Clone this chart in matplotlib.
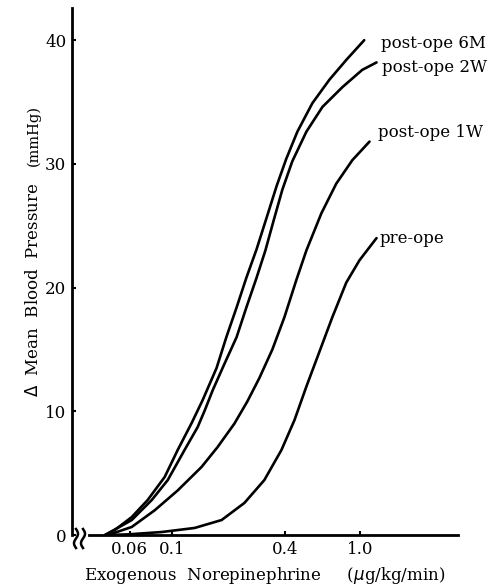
import matplotlib.pyplot as plt
import numpy as np

plt.rcParams['font.family'] = ['DejaVu Serif']

# dose (ug/kg/min) vs delta mean blood pressure (mmHg)
x_6m = [0.0443, 0.0499, 0.0614, 0.0746, 0.0918, 0.1076, 0.1276, 0.1459, 0.173, 0.195, 0.221,
        0.249, 0.282, 0.318, 0.360, 0.405, 0.464, 0.557, 0.686, 0.843, 1.05]
y_6m = [0.0, 0.4, 1.45, 2.83, 4.69, 6.87, 9.05, 10.9, 13.5, 16.0, 18.4,
        20.8, 23.1, 25.6, 28.2, 30.4, 32.6, 34.9, 36.8, 38.4, 40.0]

x_2w = [0.0443, 0.0614, 0.0784, 0.0953, 0.117, 0.1374, 0.150, 0.165, 0.190, 0.221, 0.249,
        0.282, 0.314, 0.347, 0.386, 0.436, 0.518, 0.630, 0.804, 1.025, 1.22]
y_2w = [0.0, 1.21, 2.83, 4.44, 6.87, 8.73, 10.1, 11.7, 13.8, 16.0, 18.4,
        20.8, 23.0, 25.4, 27.9, 30.2, 32.6, 34.6, 36.2, 37.6, 38.2]

x_1w = [0.046, 0.0614, 0.0813, 0.1076, 0.144, 0.175, 0.215, 0.252, 0.292, 0.342, 0.396,
        0.458, 0.518, 0.622, 0.746, 0.908, 1.12]
y_1w = [0.0, 0.65, 2.0, 3.6, 5.5, 7.1, 9.0, 10.8, 12.7, 15.0, 17.6,
        20.6, 23.0, 26.0, 28.4, 30.3, 31.8]

x_pre = [0.046, 0.0585, 0.0885, 0.1324, 0.184, 0.243, 0.310, 0.382, 0.448, 0.518, 0.607,
         0.711, 0.843, 0.990, 1.22]
y_pre = [0.0, 0.05, 0.24, 0.57, 1.21, 2.59, 4.44, 6.87, 9.29, 12.0, 14.8,
         17.6, 20.4, 22.2, 24.0]

curves = [
    (x_6m, y_6m, "post-ope 6M", (17, -3)),
    (x_2w, y_2w, "post-ope 2W", (5, -5)),
    (x_1w, y_1w, "post-ope 1W", (8, 9)),
    (x_pre, y_pre, "pre-ope", (3, 0)),
]

xticks = [0.06, 0.1, 0.4, 1.0]
xticklabels = ["0.06", "0.1", "0.4", "1.0"]
yticks = [0, 10, 20, 30, 40]

fig = plt.figure(figsize=(5.04, 5.86), dpi=100)
ax = fig.add_axes([72 / 504, 1 - 535 / 586, (458 - 72) / 504, (535 - 8) / 586])

for xs, ys, name, off in curves:
    ax.plot(xs, ys, color="black", lw=1.9, solid_capstyle="round", solid_joinstyle="round")
    ax.annotate(name, (xs[-1], ys[-1]), xytext=(off[0] / 1.389, off[1] / 1.389),
                textcoords="offset points", ha="left", va="center", fontsize=12)

ax.set_xscale("log")
ax.set_xlim(0.0296, 3.3)
ax.set_ylim(0, 42.6)

ax.set_xticks(xticks)
ax.set_xticklabels(xticklabels)
ax.xaxis.set_minor_locator(plt.NullLocator())
ax.set_yticks(yticks)
ax.tick_params(direction="in", length=3, width=1.5, labelsize=12, pad=4)

for s in ["top", "right"]:
    ax.spines[s].set_visible(False)
for s in ["left", "bottom"]:
    ax.spines[s].set_linewidth(2)
ax.spines["bottom"].set_bounds(0.0365, 3.3)

# axis break squiggles near the origin
w, h = 386.0, 527.0
t = np.linspace(0, 1, 30)
for x0 in [76, 83]:
    ax.plot((x0 - 72 + 2.0 * np.sin(t * 2 * np.pi)) / w, (6 - 19 * t) / h,
            color="black", lw=1.8, transform=ax.transAxes, clip_on=False)

ax.set_xlabel("Exogenous  Norepinephrine     ($\\mu$g/kg/min)", fontsize=12, labelpad=5)
fig.text(34 / 504, 1 - 397 / 586, "$\\mathit{\\Delta}$  Mean  Blood  Pressure", rotation=90,
         ha="center", va="bottom", fontsize=12)
fig.text(34 / 504, 1 - 166 / 586, "(mmHg)", rotation=90, ha="center", va="bottom", fontsize=10.5)

fig.savefig("out.png", dpi=100)
